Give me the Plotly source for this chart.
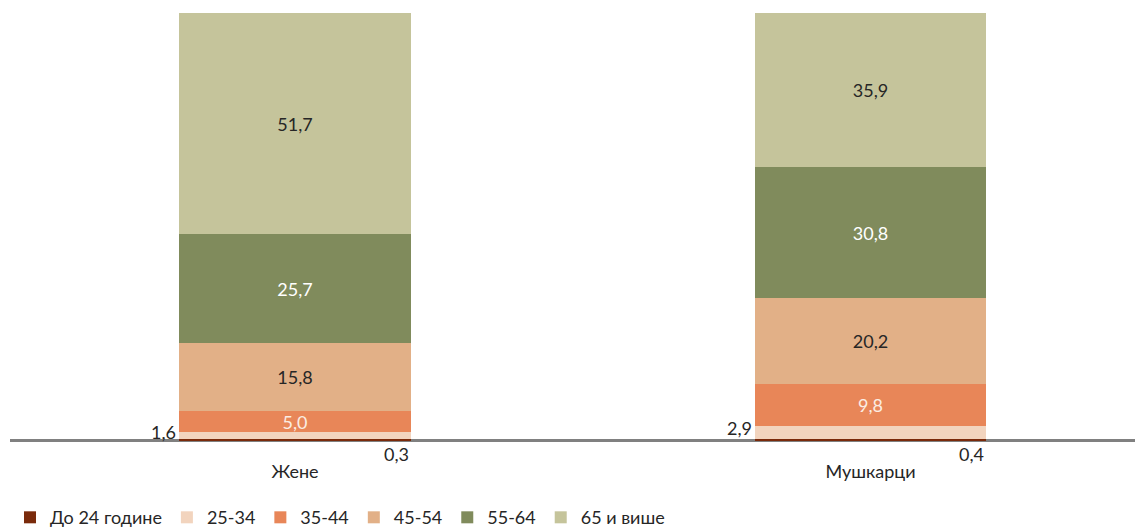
import plotly.graph_objects as go

categories = ["Жене", "Мушкарци"]
series_names = ["До 24 године", "25-34", "35-44", "45-54", "55-64", "65 и више"]
do24 = [0.3, 0.4]
s25_34 = [1.6, 2.9]
s35_44 = [5.0, 9.8]
s45_54 = [15.8, 20.2]
s55_64 = [25.7, 30.8]
s65 = [51.7, 35.9]

series_values = [do24, s25_34, s35_44, s45_54, s55_64, s65]
colors = ["#7A2A0B", "#F2D4BE", "#E88658", "#E2B087", "#808B5C", "#C5C49B"]
label_colors = [None, None, "#FBEDE3", "#262626", "#FFFFFF", "#262626"]

FONT = "Lato"
BAR_W = 0.403


def fmt(v):
    return f"{v:.1f}".replace(".", ",")


fig = go.Figure()
xs = list(range(len(categories)))
for name, vals, col, lc in zip(series_names, series_values, colors, label_colors):
    show_inside = lc is not None
    fig.add_trace(go.Bar(
        name=name,
        x=xs,
        y=vals,
        marker=dict(color=col, line=dict(width=0)),
        width=BAR_W,
        text=[fmt(v) for v in vals] if show_inside else None,
        textposition="inside" if show_inside else "none",
        insidetextanchor="middle",
        textangle=0,
        textfont=dict(family=FONT, size=18, color=lc if lc else "#262626"),
        hoverinfo="skip",
    ))

annotations = []
for i in xs:
    annotations.append(dict(
        x=i - BAR_W / 2, y=do24[i] + s25_34[i] / 2, xref="x", yref="y",
        text=fmt(s25_34[i]), showarrow=False, xanchor="right", yanchor="middle",
        xshift=-1, yshift=4, font=dict(family=FONT, size=18, color="#262626"),
    ))
    annotations.append(dict(
        x=i + BAR_W / 2, y=0, xref="x", yref="y",
        text=fmt(do24[i]), showarrow=False, xanchor="right", yanchor="middle",
        yshift=-14, font=dict(family=FONT, size=18, color="#262626"),
    ))

fig.update_layout(
    barmode="stack",
    width=1135, height=521,
    margin=dict(l=2, r=0, t=5, b=88, autoexpand=False),
    paper_bgcolor="white",
    plot_bgcolor="white",
    font=dict(family=FONT, size=18, color="#262626"),
    showlegend=True,
    legend=dict(
        orientation="h", x=0.0, xanchor="left", y=-0.179, yanchor="middle",
        traceorder="normal",
        font=dict(family=FONT, size=18, color="#262626"),
        itemwidth=30, tracegroupgap=0,
    ),
    annotations=annotations,
    bargap=0,
    uniformtext=dict(mode="show", minsize=18),
)
fig.update_xaxes(
    tickmode="array", tickvals=xs, ticktext=categories,
    range=[-0.4952, 1.4735],
    showline=False,
    showgrid=False, zeroline=False, ticks="",
    ticklabelstandoff=18, automargin=False,
    tickfont=dict(family=FONT, size=18, color="#262626"),
)
fig.update_yaxes(
    range=[-0.15, 100.1], showticklabels=False, showgrid=False, showline=False,
    zeroline=True, zerolinecolor="#808080", zerolinewidth=3,
    layer="above traces", automargin=False, ticks="",
)

fig.write_html("out.html")
